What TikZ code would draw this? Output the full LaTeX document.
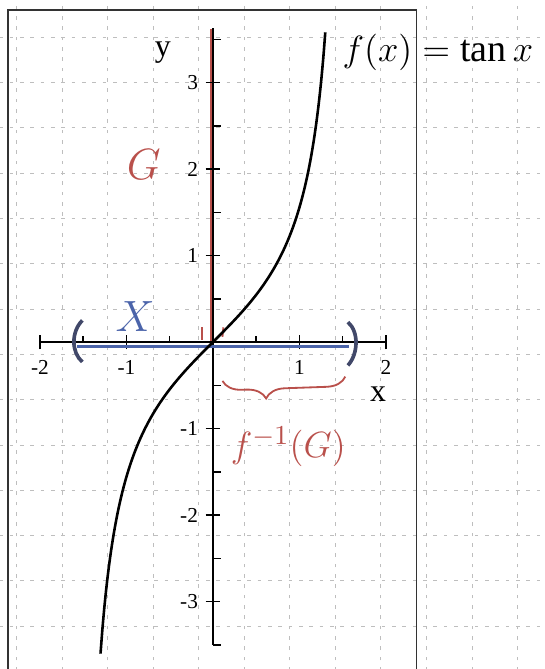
\documentclass[tikz,border=0pt]{standalone}
\usepackage{fontspec}
\setmainfont{Liberation Serif}
\usetikzlibrary{decorations.pathreplacing}
\definecolor{penred}{RGB}{185,80,75}
\definecolor{penblue}{RGB}{75,100,170}
\definecolor{parenblue}{RGB}{65,72,105}
\definecolor{gridgray}{RGB}{190,190,190}
\tikzset{
  paper/.style={gridgray, line width=0.3pt, dash pattern=on 1.2pt off 2.2pt},
  ticklab/.style={font=\fontsize{7}{8}\selectfont, inner sep=1pt},
  axislab/.style={font=\fontsize{10.5}{12}\selectfont, inner sep=0.5pt},
  hand/.style={inner sep=1pt}
}

\begin{document}
\begin{tikzpicture}[line width=0.5pt]
    \useasboundingbox (-2.462,-3.780) rectangle (3.827,3.954);
    \clip (-2.462,-3.780) rectangle (3.827,3.954);

    % graph paper
    \foreach \k in {0,...,11}
        \draw[paper] ({-2.266+0.526*\k},-3.8) -- ({-2.266+0.526*\k},3.96);
    \foreach \k in {0,...,14}
        \draw[paper] (-2.47,{3.526-0.524*\k}) -- (3.83,{3.526-0.524*\k});

    % frame
    \draw[line width=0.45pt, black!80] (-2.37,-4.2) rectangle (2.35,3.84);

    % G on the y axis
    \draw[penred, line width=1.2pt] (-0.015,0) -- (-0.015,3.62);
    \draw[penred, line width=0.6pt] (-0.13,0.17) -- (-0.13,0.02);
    \draw[penred, line width=0.6pt] (0.12,0.17) -- (0.11,0.06);

    % axes
    \coordinate (O) at (0,0);
    \draw (-2,0) -- (2,0);
    \draw (0,-3.5) -- (0,3.63);
    \draw (-2,-0.085) -- (-2,0.085);
    \draw (2,-0.085) -- (2,0.085);
    \foreach \i in {-1.5,-1,...,1.5}
        \draw (\i,0) -- (\i,0.07);
    \foreach \i in {-1,1}
        \draw (\i,-0.085) -- (\i,0.085);
    \foreach \j in {-3.5,-2.5,...,3.5}
        \draw (0,\j) -- (0.09,\j);
    \foreach \j in {-3,-2,-1,1,2,3}
        \draw (-0.085,\j) -- (0.085,\j);

    % tick labels
    \foreach \i in {-2,-1,1,2}
        \node[ticklab, anchor=north] (xt\i) at (\i,-0.17) {\i};
    \foreach \j in {-3,-2,-1,1,2,3}
        \node[ticklab, anchor=east] (yt\j) at (-0.13,\j) {\j};
    \node[axislab] (xlab) at (1.91,-0.6) {x};
    \node[axislab] (ylab) at (-0.58,3.35) {y};

    % X on the x axis
    \draw[penblue, line width=1.2pt] (-1.57,-0.05) -- (1.57,-0.05);
    \draw[parenblue, line width=1.2pt] (-1.51,0.25) .. controls (-1.64,0.12) and (-1.64,-0.12) .. (-1.51,-0.23);
    \draw[parenblue, line width=1.2pt] (1.56,0.23) .. controls (1.69,0.12) and (1.68,-0.14) .. (1.56,-0.27);

    % graph of tan
    \draw[line width=0.85pt] plot[domain=-1.3:1.3, samples=120, smooth] (\x,{tan(\x r)});

    % brace for the preimage
    \draw[penred, line width=0.6pt, decorate,
          decoration={brace, mirror, amplitude=0.22cm, aspect=0.35}]
        (0.11,-0.45) -- (1.53,-0.40);

    % handwritten labels
    \node[hand] (flab) at (2.6,3.35) {\fontsize{12.5}{14}\selectfont$f(x)=\tan x$};
    \node[hand, text=penred] (Glab) at (-0.80,2.05) {\fontsize{15}{17}\selectfont$G$};
    \node[hand, text=penblue] (Xlab) at (-0.90,0.30) {\fontsize{13.5}{15}\selectfont$X$};
    \node[hand, text=penred] (invlab) at (0.87,-1.21) {\fontsize{12.5}{14}\selectfont$f^{-1}(G)$};
\end{tikzpicture}
\end{document}
